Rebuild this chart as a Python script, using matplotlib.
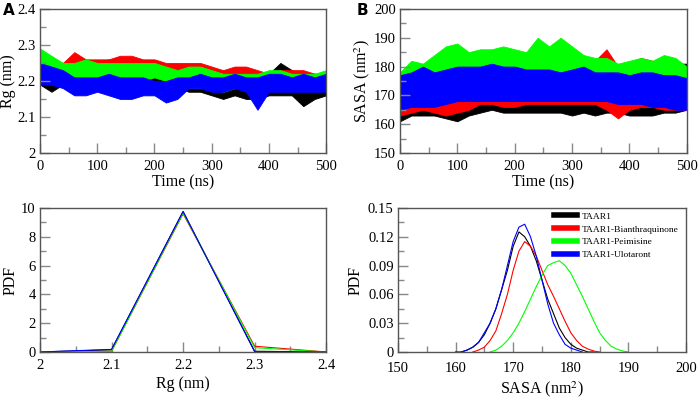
import numpy as np
import matplotlib.pyplot as plt
from matplotlib.ticker import MultipleLocator

# time axis for the trajectories (ns), envelope read every 20 ns
time = np.arange(0, 501, 20)

# Rg (nm) lower / upper envelope of each trace
rg_black_lo = [2.19, 2.17, 2.19, 2.20, 2.19, 2.19, 2.20, 2.19, 2.19, 2.18, 2.18, 2.18, 2.18,
               2.17, 2.17, 2.16, 2.15, 2.16, 2.15, 2.15, 2.16, 2.16, 2.16, 2.13, 2.15, 2.16]
rg_black_hi = [2.25, 2.23, 2.23, 2.23, 2.24, 2.25, 2.26, 2.24, 2.24, 2.24, 2.23, 2.23, 2.23,
               2.23, 2.22, 2.22, 2.21, 2.21, 2.21, 2.22, 2.22, 2.25, 2.23, 2.22, 2.22, 2.22]
rg_red_lo = [2.20, 2.20, 2.20, 2.20, 2.21, 2.21, 2.21, 2.22, 2.21, 2.21, 2.21, 2.21, 2.21,
             2.21, 2.20, 2.20, 2.20, 2.20, 2.20, 2.19, 2.19, 2.19, 2.20, 2.20, 2.20, 2.20]
rg_red_hi = [2.27, 2.26, 2.25, 2.28, 2.26, 2.26, 2.26, 2.27, 2.27, 2.26, 2.26, 2.25, 2.25,
             2.25, 2.25, 2.24, 2.23, 2.24, 2.24, 2.23, 2.22, 2.23, 2.23, 2.23, 2.22, 2.22]
rg_green_lo = [2.20, 2.20, 2.20, 2.20, 2.20, 2.20, 2.20, 2.20, 2.20, 2.20, 2.21, 2.20, 2.19,
               2.18, 2.18, 2.18, 2.17, 2.18, 2.18, 2.17, 2.18, 2.18, 2.18, 2.18, 2.18, 2.18]
rg_green_hi = [2.29, 2.27, 2.25, 2.25, 2.26, 2.25, 2.25, 2.25, 2.25, 2.25, 2.25, 2.24, 2.23,
               2.24, 2.24, 2.23, 2.22, 2.22, 2.22, 2.22, 2.23, 2.23, 2.22, 2.22, 2.22, 2.23]
rg_blue_lo = [2.19, 2.19, 2.18, 2.16, 2.16, 2.17, 2.16, 2.15, 2.15, 2.16, 2.16, 2.14, 2.15,
              2.18, 2.18, 2.17, 2.17, 2.18, 2.17, 2.12, 2.17, 2.17, 2.17, 2.17, 2.17, 2.17]
rg_blue_hi = [2.25, 2.24, 2.23, 2.21, 2.21, 2.21, 2.22, 2.21, 2.21, 2.21, 2.20, 2.20, 2.21,
              2.21, 2.22, 2.21, 2.21, 2.22, 2.21, 2.21, 2.22, 2.22, 2.21, 2.22, 2.21, 2.22]

# SASA (nm^2) lower / upper envelope of each trace
sasa_black_lo = [161, 163, 163, 163, 162, 161, 163, 164, 165, 164, 164, 164, 164,
                 164, 164, 163, 164, 163, 164, 164, 163, 163, 163, 164, 164, 165]
sasa_black_hi = [176, 176, 178, 176, 177, 178, 180, 178, 178, 177, 177, 178, 177,
                 177, 177, 178, 180, 181, 179, 180, 178, 179, 180, 181, 181, 181]
sasa_red_lo = [163, 164, 165, 164, 163, 164, 165, 167, 167, 166, 166, 167, 167,
               167, 167, 167, 167, 167, 165, 162, 165, 166, 166, 165, 165, 165]
sasa_red_hi = [176, 180, 178, 178, 177, 178, 178, 177, 177, 177, 178, 178, 176,
               177, 178, 179, 182, 182, 186, 180, 181, 183, 182, 179, 180, 179]
sasa_green_lo = [168, 170, 172, 172, 174, 174, 173, 173, 173, 174, 174, 174, 175,
                 175, 175, 174, 174, 172, 172, 172, 172, 172, 172, 172, 172, 172]
sasa_green_hi = [178, 182, 181, 184, 187, 188, 185, 186, 186, 187, 186, 185, 190,
                 187, 190, 187, 184, 183, 183, 181, 182, 183, 182, 184, 183, 180]
sasa_blue_lo = [165, 166, 166, 166, 167, 168, 168, 168, 168, 168, 168, 168, 168,
                168, 168, 168, 168, 168, 168, 167, 167, 167, 166, 166, 165, 165]
sasa_blue_hi = [177, 178, 180, 178, 179, 180, 180, 180, 181, 180, 180, 179, 179,
                179, 178, 179, 180, 178, 178, 178, 177, 178, 178, 177, 177, 176]

# Rg distribution
rg_bins = [2.0, 2.1, 2.2, 2.3, 2.4]
pdf_rg_black = [0, 0.15, 9.75, 0.05, 0]
pdf_rg_red = [0, 0.05, 9.6, 0.4, 0]
pdf_rg_green = [0, 0.05, 9.65, 0.3, 0]
pdf_rg_blue = [0, 0.18, 9.75, 0.02, 0]

# SASA distribution
sasa_black_x = list(range(160, 185))
pdf_sasa_black = [0, 0, 0.002, 0.005, 0.01, 0.018, 0.03, 0.045, 0.065, 0.085, 0.11, 0.125,
                  0.12, 0.11, 0.095, 0.075, 0.055, 0.04, 0.025, 0.015, 0.008, 0.004, 0.002, 0, 0]
sasa_red_x = list(range(163, 186))
pdf_sasa_red = [0, 0.002, 0.005, 0.012, 0.022, 0.04, 0.06, 0.085, 0.105, 0.115, 0.11, 0.1,
                0.085, 0.07, 0.058, 0.045, 0.032, 0.02, 0.012, 0.006, 0.003, 0.001, 0]
sasa_green_x = list(range(166, 191))
pdf_sasa_green = [0, 0.002, 0.006, 0.012, 0.02, 0.03, 0.042, 0.055, 0.068, 0.08, 0.09, 0.093,
                  0.095, 0.09, 0.082, 0.07, 0.058, 0.045, 0.032, 0.02, 0.012, 0.006, 0.003, 0.001, 0]
sasa_blue_x = list(range(161, 183))
pdf_sasa_blue = [0, 0.002, 0.005, 0.01, 0.02, 0.03, 0.045, 0.065, 0.09, 0.115, 0.13, 0.133,
                 0.12, 0.1, 0.075, 0.05, 0.03, 0.018, 0.008, 0.004, 0.002, 0]

labels = ['TAAR1', 'TAAR1-Bianthraquinone', 'TAAR1-Peimisine', 'TAAR1-Ulotaront']
colors = ['black', '#ff0000', '#00ff00', '#0000ff']

plt.rcParams['font.family'] = ['Liberation Serif', 'DejaVu Serif']
plt.rcParams['mathtext.fontset'] = 'stix'

fig = plt.figure(figsize=(6.98, 3.98), dpi=100)
axA = fig.add_axes([0.0573, 0.6156, 0.410, 0.362])
axB = fig.add_axes([0.573, 0.6156, 0.411, 0.362])
axC = fig.add_axes([0.0573, 0.1156, 0.410, 0.362])
axD = fig.add_axes([0.570, 0.1156, 0.413, 0.362])


def style(ax):
    for s in ax.spines.values():
        s.set_color('#555555')
        s.set_linewidth(1.0)
    ax.tick_params(which='both', direction='in', colors='#888888', labelcolor='black',
                   labelsize=10.5, top=False, right=False)
    ax.tick_params(which='major', length=7, width=1.0)
    ax.tick_params(which='minor', length=4, width=1.0)
    ax.tick_params(axis='x', pad=5)
    ax.tick_params(axis='y', pad=3)


rg_env = [(rg_black_lo, rg_black_hi), (rg_red_lo, rg_red_hi),
          (rg_green_lo, rg_green_hi), (rg_blue_lo, rg_blue_hi)]
for (lo, hi), c in zip(rg_env, colors):
    axA.fill_between(time, lo, hi, color=c, lw=0.6, edgecolor=c)
axA.set_xlim(0, 500)
axA.set_ylim(2.0, 2.4)
axA.xaxis.set_major_locator(MultipleLocator(100))
axA.xaxis.set_minor_locator(MultipleLocator(50))
axA.yaxis.set_minor_locator(MultipleLocator(0.05))
axA.set_yticks([2.0, 2.1, 2.2, 2.3, 2.4], ['2', '2.1', '2.2', '2.3', '2.4'])
axA.set_xlabel('Time (ns)', fontsize=11.5, labelpad=1)
axA.set_ylabel('Rg (nm)', fontsize=11.5, labelpad=1)
style(axA)

sasa_env = [(sasa_black_lo, sasa_black_hi), (sasa_red_lo, sasa_red_hi),
            (sasa_green_lo, sasa_green_hi), (sasa_blue_lo, sasa_blue_hi)]
for (lo, hi), c in zip(sasa_env, colors):
    axB.fill_between(time, lo, hi, color=c, lw=0.6, edgecolor=c)
axB.set_xlim(0, 500)
axB.set_ylim(150, 200)
axB.xaxis.set_major_locator(MultipleLocator(100))
axB.xaxis.set_minor_locator(MultipleLocator(50))
axB.yaxis.set_major_locator(MultipleLocator(10))
axB.yaxis.set_minor_locator(MultipleLocator(5))
axB.set_xlabel('Time (ns)', fontsize=11.5, labelpad=1)
axB.set_ylabel('SASA (nm$^2$)', fontsize=11.5, labelpad=1)
style(axB)

for y, c in zip([pdf_rg_black, pdf_rg_red, pdf_rg_green, pdf_rg_blue], colors):
    axC.plot(rg_bins, y, color=c, lw=0.8)
axC.set_xlim(2.0, 2.4)
axC.set_ylim(0, 10)
axC.set_xticks([2.0, 2.1, 2.2, 2.3, 2.4], ['2', '2.1', '2.2', '2.3', '2.4'])
axC.xaxis.set_minor_locator(MultipleLocator(0.05))
axC.yaxis.set_major_locator(MultipleLocator(2))
axC.yaxis.set_minor_locator(MultipleLocator(1))
axC.set_xlabel('Rg (nm)', fontsize=11.5, labelpad=3)
axC.set_ylabel('PDF', fontsize=11.5, labelpad=2)
style(axC)

sasa_pdfs = [(sasa_black_x, pdf_sasa_black), (sasa_red_x, pdf_sasa_red),
             (sasa_green_x, pdf_sasa_green), (sasa_blue_x, pdf_sasa_blue)]
for (x, y), c, lab in zip(sasa_pdfs, colors, labels):
    axD.plot(x, y, color=c, lw=0.8, label=lab)
axD.set_xlim(150, 200)
axD.set_ylim(0, 0.15)
axD.xaxis.set_major_locator(MultipleLocator(10))
axD.xaxis.set_minor_locator(MultipleLocator(5))
axD.set_yticks([0, 0.03, 0.06, 0.09, 0.12, 0.15], ['0', '0.03', '0.06', '0.09', '0.12', '0.15'])
axD.yaxis.set_minor_locator(MultipleLocator(0.015))
axD.set_xlabel('SASA (nm$^2$)', fontsize=11.5, labelpad=3)
axD.set_ylabel('PDF', fontsize=11.5, labelpad=3)
style(axD)
axD.tick_params(axis='x', pad=7)
leg = axD.legend(loc='upper right', bbox_to_anchor=(1.005, 1.03), frameon=False,
                 fontsize=6.8, handlelength=2.4, handletextpad=0.6, labelspacing=0.45)
for h in leg.legend_handles:
    h.set_linewidth(4)

fig.text(0.004, 0.992, 'A', fontsize=11, fontweight='bold', family='DejaVu Sans', va='top')
fig.text(0.511, 0.992, 'B', fontsize=11, fontweight='bold', family='DejaVu Sans', va='top')

fig.savefig('out.png', dpi=100)
